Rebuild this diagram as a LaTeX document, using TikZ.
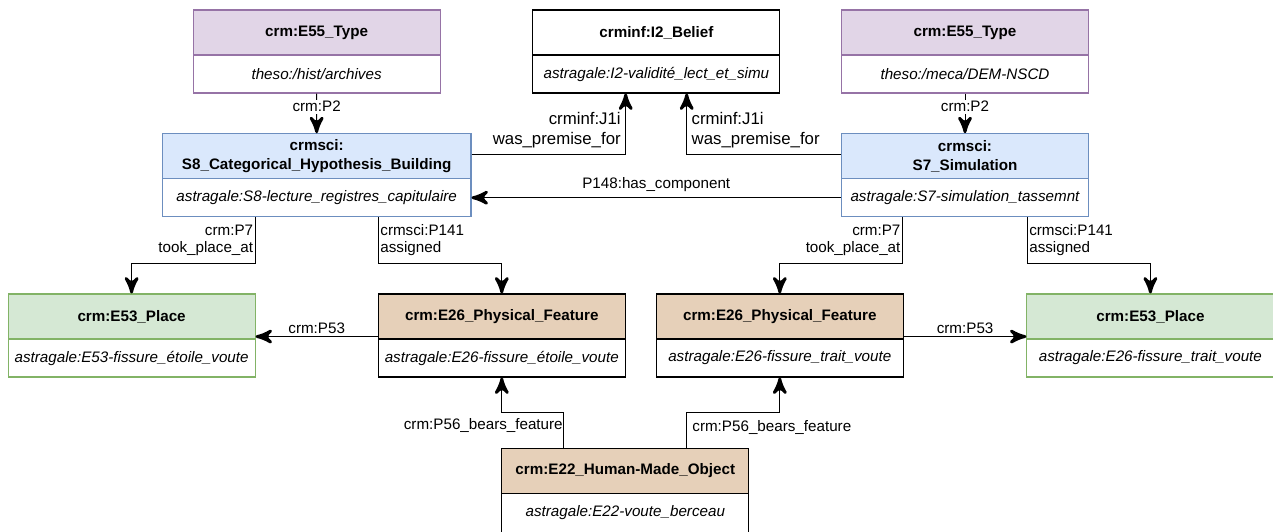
\documentclass[tikz,border=0pt]{standalone}
\usepackage{fontspec}
\setmainfont{Liberation Sans}
\usetikzlibrary{arrows}
\usetikzlibrary{decorations.markings}
\usetikzlibrary{positioning}
\tikzset{link/.style = {line width = 1, decoration={markings,
                                  mark=at position 1 with {\arrow[scale=2.9]{stealth'}}},
                        postaction={decorate}}}
\tikzset{head/.style = {draw, line width = 1.1, minimum width = 247, minimum height = 45, inner sep = 0,
                        align = center, font = \fontsize{15.2}{19}\selectfont\bfseries}}
\tikzset{body/.style = {draw, line width = 1.1, fill = white, minimum width = 247, minimum height = 38,
                        inner sep = 0, font = \fontsize{15.2}{19}\selectfont\itshape}}
\tikzset{lbl/.style = {inner sep = 1.5, align = left, font = \fontsize{15.2}{17.5}\selectfont}}
\tikzset{biglbl/.style = {inner xsep = 4.5, inner ysep = 1, align = left, font = \fontsize{16.8}{20}\selectfont}}
\definecolor{typefill}{RGB}{225,213,231}
\definecolor{typeline}{RGB}{150,115,166}
\definecolor{scifill}{RGB}{218,232,252}
\definecolor{sciline}{RGB}{108,142,191}
\definecolor{placefill}{RGB}{213,232,212}
\definecolor{placeline}{RGB}{130,179,102}
\definecolor{thingfill}{RGB}{230,208,185}

\begin{document}
\begin{tikzpicture}[x=1pt, y=-1pt]
      \useasboundingbox (0, 0) rectangle (1273, 531);

      \node [head, fill=typefill, draw=typeline] (typeL) at (316.6, 32.5) {crm:E55\_Type};
      \node [body, draw=typeline] (typeLv) at (316.6, 74) {theso:/hist/archives};
      \node [head, fill=white] (belief) at (656.4, 32.5) {crminf:I2\_Belief};
      \node [body] (beliefv) at (656.4, 74) {astragale:I2-validité\_lect\_et\_simu};
      \node [head, fill=typefill, draw=typeline] (typeR) at (965, 32.5) {crm:E55\_Type};
      \node [body, draw=typeline] (typeRv) at (965, 74) {theso:/meca/DEM-NSCD};

      \node [head, fill=scifill, draw=sciline, minimum width = 308.6] (hypo) at (316.7, 156.2)
            {crmsci:\\S8\_Categorical\_Hypothesis\_Building};
      \node [body, draw=sciline, minimum width = 308.6] (hypov) at (316.7, 197.7)
            {astragale:S8-lecture\_registres\_capitulaire};
      \node [head, fill=scifill, draw=sciline] (simu) at (965, 156.2) {crmsci:\\S7\_Simulation};
      \node [body, draw=sciline] (simuv) at (965, 197.7) {astragale:S7-simulation\_tassemnt};

      \node [head, fill=placefill, draw=placeline] (placeL) at (131.6, 316.5) {crm:E53\_Place};
      \node [body, draw=placeline] (placeLv) at (131.6, 358) {astragale:E53-fissure\_étoile\_voute};
      \node [head, fill=thingfill] (featL) at (501.8, 316.5) {crm:E26\_Physical\_Feature};
      \node [body] (featLv) at (501.8, 358) {astragale:E26-fissure\_étoile\_voute};
      \node [head, fill=thingfill] (featR) at (779.8, 316.5) {crm:E26\_Physical\_Feature};
      \node [body] (featRv) at (779.8, 358) {astragale:E26-fissure\_trait\_voute};
      \node [head, fill=placefill, draw=placeline] (placeR) at (1150.4, 316.5) {crm:E53\_Place};
      \node [body, draw=placeline] (placeRv) at (1150.4, 358) {astragale:E26-fissure\_trait\_voute};

      \node [head, fill=thingfill] (object) at (625.3, 471) {crm:E22\_Human-Made\_Object};
      \node [body, minimum height = 39] (objectv) at (625.3, 513) {astragale:E22-voute\_berceau};

      \draw [link] (typeLv) -- (hypo) node [lbl, fill=white, pos=0.33] (p2l) {crm:P2};
      \draw [link] (typeRv) -- (simu) node [lbl, fill=white, pos=0.33] (p2r) {crm:P2};

      \draw [link] ([yshift=2]hypo.east) -| ([xshift=-30.7]beliefv.south)
            node [biglbl, left, align=right, pos=0.7] (j1l) {crminf:J1i\\was\_premise\_for};
      \draw [link] ([yshift=2]simu.west) -| ([xshift=30.3]beliefv.south)
            node [biglbl, right, pos=0.7] (j1r) {crminf:J1i\\was\_premise\_for};
      \draw [link] (simuv.west) -- (hypov.east)
            node [lbl, pos=0.5, yshift=13.3] (p148) {P148:has\_component};

      \draw [link] ([xshift=-61.6]hypov.south) -- ++(0, 46)
            node [lbl, left, align=right, pos=0.5] (p7l) {crm:P7\\took\_place\_at} -| (placeL.north);
      \draw [link] ([xshift=61.7]hypov.south) -- ++(0, 46)
            node [lbl, right, pos=0.5] (p141l) {crmsci:P141\\assigned} -| (featL.north);
      \draw [link] ([xshift=-62.6]simuv.south) -- ++(0, 46)
            node [lbl, left, align=right, pos=0.5] (p7r) {crm:P7\\took\_place\_at} -| (featR.north);
      \draw [link] ([xshift=62.3]simuv.south) -- ++(0, 46)
            node [lbl, right, pos=0.5] (p141r) {crmsci:P141\\assigned} -| (placeR.north);

      \draw [link] ([yshift=3]featL.south west) -- ([yshift=3]placeL.south east)
            node [lbl, pos=0.5, yshift=8.5] (p53l) {crm:P53};
      \draw [link] ([yshift=3]featR.south east) -- ([yshift=3]placeR.south west)
            node [lbl, pos=0.5, yshift=8.5] (p53r) {crm:P53};

      \draw [link] ([xshift=-61.6]object.north) -- ++(0, -35.8)
            node [lbl, left, inner xsep=0.5, pos=0.62] (p56l) {crm:P56\_bears\_feature} -| (featLv.south);
      \draw [link] ([xshift=61.6]object.north) -- ++(0, -35.8)
            node [lbl, right, inner xsep=5, pos=0.58] (p56r) {crm:P56\_bears\_feature} -| (featRv.south);
    \end{tikzpicture}
\end{document}
